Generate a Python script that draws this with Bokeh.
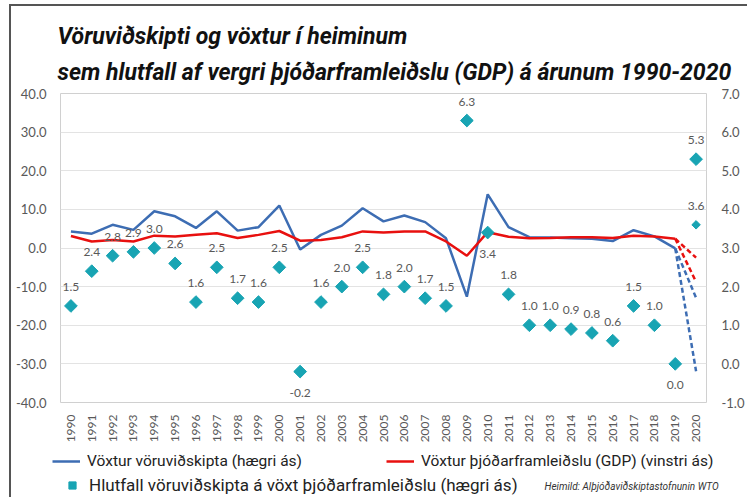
import math
from bokeh.plotting import figure
from bokeh.layouts import column
from bokeh.models import (Range1d, LinearAxis, FixedTicker, PrintfTickFormatter, Label,
                          Legend, LegendItem, ColumnDataSource, Title)
from bokeh.core.properties import value
from bokeh.embed import file_html
from bokeh.resources import INLINE

# ---------------- data ----------------
years = list(range(1990, 2020))
trade_growth = [4.3, 3.7, 6.0, 4.7, 9.5, 8.2, 5.2, 9.5, 4.5, 5.4,
                11.0, -0.4, 3.4, 5.8, 10.3, 6.9, 8.4, 6.7, 2.5, -12.6,
                13.9, 5.4, 2.8, 2.7, 2.5, 2.4, 1.8, 4.6, 3.0, -0.1]
gdp_growth = [3.1, 1.7, 2.1, 1.7, 3.2, 3.0, 3.4, 3.8, 2.6, 3.4,
              4.4, 1.9, 2.1, 2.8, 4.3, 4.0, 4.3, 4.3, 1.7, -2.0,
              4.1, 2.9, 2.5, 2.6, 2.8, 2.8, 2.6, 3.2, 3.0, 2.4]
ratio_years = list(range(1990, 2021))
ratio = [1.5, 2.4, 2.8, 2.9, 3.0, 2.6, 1.6, 2.5, 1.7, 1.6,
         2.5, -0.2, 1.6, 2.0, 2.5, 1.8, 2.0, 1.7, 1.5, 6.3,
         3.4, 1.8, 1.0, 1.0, 0.9, 0.8, 0.6, 1.5, 1.0, 0.0, 5.3]
forecast_years = [2019, 2020]
trade_2020 = [-12.9, -31.9]   # optimistic, pessimistic
gdp_2020 = [-2.5, -8.8]
ratio_2020_pess = 3.6
below_label_years = [2001, 2010, 2019]

left_ticks = [-40, -30, -20, -10, 0, 10, 20, 30, 40]
right_ticks = [-1, 0, 1, 2, 3, 4, 5, 6, 7]

title_1 = "Vöruviðskipti og vöxtur í heiminum"
title_2 = "sem hlutfall af vergri þjóðarframleiðslu (GDP) á árunum 1990-2020"
leg_trade = "Vöxtur vöruviðskipta (hægri ás)"
leg_gdp = "Vöxtur þjóðarframleiðslu (GDP) (vinstri ás)"
leg_ratio = "Hlutfall vöruviðskipta á vöxt þjóðarframleiðslu (hægri ás)"
source_txt = "Heimild: Alþjóðaviðskiptastofnunin WTO"

BLUE = "#3d6db3"
RED = "#e8100f"
TEAL = "#18a4b3"
GREY = "#595959"
HEADFONT = "Roboto"
TICKFONT = "Lato"

# ---------------- main figure ----------------
p = figure(width=736, height=441, output_backend="svg", toolbar_location=None,
           title=None,
           x_range=Range1d(1989.5, 2020.5), y_range=Range1d(-40, 40),
           min_border_left=49, min_border_right=34, min_border_top=87, min_border_bottom=45)
p.frame_align = False
p.extra_y_ranges = {"r": Range1d(-1, 7)}
p.outline_line_color = "#d0d0d0"
p.background_fill_color = "white"
p.border_fill_color = "white"

p.xgrid.grid_line_color = None
p.ygrid.grid_line_color = "#e3e3e3"
p.ygrid.ticker = FixedTicker(ticks=left_ticks)

xa = p.xaxis[0]
xa.ticker = FixedTicker(ticks=ratio_years)
xa.major_label_orientation = math.pi / 2
xa.axis_line_color = None
xa.major_tick_line_color = None
xa.minor_tick_line_color = None
xa.major_label_text_font = TICKFONT
xa.major_label_text_font_size = "12px"
xa.major_label_text_color = GREY
xa.major_label_standoff = 6

ya = p.yaxis[0]
ya.ticker = FixedTicker(ticks=left_ticks)
ya.formatter = PrintfTickFormatter(format="%.1f")
ya.axis_line_color = None
ya.major_tick_line_color = None
ya.minor_tick_line_color = None
ya.major_label_text_font = TICKFONT
ya.major_label_text_font_size = "13px"
ya.major_label_text_color = GREY
ya.major_label_standoff = 8

ra = LinearAxis(y_range_name="r", ticker=FixedTicker(ticks=right_ticks),
                formatter=PrintfTickFormatter(format="%.1f"))
ra.axis_line_color = None
ra.major_tick_line_color = None
ra.minor_tick_line_color = None
ra.major_label_text_font = TICKFONT
ra.major_label_text_font_size = "13px"
ra.major_label_text_color = GREY
ra.major_label_standoff = 9
p.add_layout(ra, "right")

# lines
p.line(years, trade_growth, line_color=BLUE, line_width=2.5)
p.line(years, gdp_growth, line_color=RED, line_width=2.5)
for v in trade_2020:
    p.line(forecast_years, [trade_growth[-1], v], line_color=BLUE, line_width=2.5, line_dash="5 3")
for v in gdp_2020:
    p.line(forecast_years, [gdp_growth[-1], v], line_color=RED, line_width=2.5, line_dash="5 3")

# ratio markers
p.scatter(ratio_years, ratio, marker="square", angle=math.pi / 4, size=9,
          fill_color=TEAL, line_color=TEAL, y_range_name="r")
p.scatter([2020], [ratio_2020_pess], marker="square", angle=math.pi / 4, size=6,
          fill_color=TEAL, line_color=TEAL, y_range_name="r")

lab_x, lab_y, lab_t, lab_off = [], [], [], []
for yr, v in zip(ratio_years, ratio):
    lab_x.append(yr); lab_y.append(v); lab_t.append(f"{v:.1f}")
    lab_off.append(21 if yr in below_label_years else -19)
lab_x.append(2020); lab_y.append(ratio_2020_pess); lab_t.append(f"{ratio_2020_pess:.1f}"); lab_off.append(-19)
src = ColumnDataSource(dict(x=lab_x, y=lab_y, t=lab_t, off=lab_off))
p.text(x="x", y="y", text="t", y_offset="off", source=src, y_range_name="r",
       text_align="center", text_baseline="middle", text_font=value(TICKFONT),
       text_font_size="12px", text_color=GREY)

# titles
t2 = Title(text=title_2, align="left", offset=-3, standoff=15, text_font=HEADFONT,
           text_font_style="bold italic", text_font_size="23px", text_color="#111111")
t1 = Title(text=title_1, align="left", offset=-3, standoff=0, text_font=HEADFONT,
           text_font_style="bold italic", text_font_size="23px", text_color="#111111")
p.add_layout(t2, "above")
p.add_layout(t1, "above")

# ---------------- legend strip ----------------
lf = figure(width=736, height=50, output_backend="svg", toolbar_location=None,
            x_range=Range1d(0, 1), y_range=Range1d(0, 1),
            min_border_left=0, min_border_right=0, min_border_top=0, min_border_bottom=0,
            x_axis_type=None, y_axis_type=None)
lf.frame_align = False
lf.outline_line_color = None
lf.xgrid.visible = False
lf.ygrid.visible = False
lb = lf.line([-5, -4], [-5, -5], line_color=BLUE, line_width=2.5)
lr = lf.line([-5, -4], [-5, -5], line_color=RED, line_width=2.5)
ld = lf.scatter([-5], [-5], marker="square", angle=math.pi / 4, size=6,
                fill_color=TEAL, line_color=TEAL)

leg1 = Legend(items=[LegendItem(label=leg_trade, renderers=[lb]),
                     LegendItem(label=leg_gdp, renderers=[lr])],
              orientation="horizontal", location=(41, 27), spacing=84,
              label_text_font_size="15.5px", label_standoff=7)
leg2 = Legend(items=[LegendItem(label=leg_ratio, renderers=[ld])],
              orientation="horizontal", location=(47, 2),
              label_text_font_size="17px", label_standoff=3)
for lg in (leg1, leg2):
    lg.label_text_font = HEADFONT
    lg.label_text_color = "#222222"
    lg.glyph_width = 28
    lg.glyph_height = 18
    lg.label_height = 18
    lg.padding = 0
    lg.margin = 0
    lg.border_line_color = None
    lg.background_fill_alpha = 0
    lf.add_layout(lg, "center")

lf.add_layout(Label(x=533, y=11, x_units="screen", y_units="screen", text=source_txt,
                    text_font=HEADFONT, text_font_style="italic", text_font_size="10px",
                    text_color="#333333", text_baseline="middle"))

layout = column(p, lf, spacing=0)
layout.styles = {"margin-left": "9px", "margin-top": "4px",
                 "border-left": "2px solid #555", "border-top": "2px solid #555"}

open("out.html", "w").write(file_html(layout, INLINE))
